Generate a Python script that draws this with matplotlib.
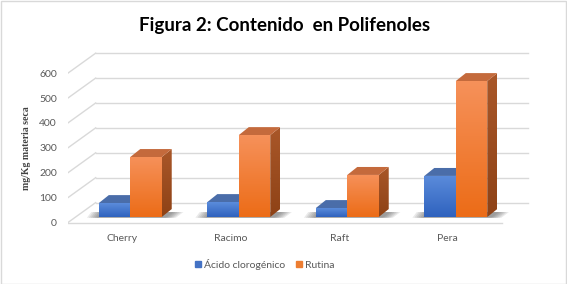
import numpy as np
import matplotlib
matplotlib.use('Agg')
import matplotlib.pyplot as plt
from matplotlib.patches import Polygon, Rectangle
from matplotlib.colors import to_rgb
from matplotlib.lines import Line2D

# datos (mg/Kg materia seca)
categorias = ['Cherry', 'Racimo', 'Raft', 'Pera']
acido_clorogenico = [56, 60, 36, 165]
rutina = [241, 329, 169, 546]
series = ['Ácido clorogénico', 'Rutina']
valores_y = [0, 100, 200, 300, 400, 500, 600]

plt.rcParams['font.family'] = ['Lato', 'DejaVu Sans']

# geometria pseudo 3D (en unidades de datos)
prof_x, prof_y = 0.255, 80      # fondo de la pared
bar_sx, bar_b = 0.074, 22       # desplazamiento del frente de las barras
bar_dx, bar_dy = 0.092, 32      # profundidad de cada barra
ancho = 0.29

colores = {
    'azul': dict(front=('#5B8CDB', '#2F62BE'), top='#4A6DA9', side=('#3A5A95', '#2A4A80')),
    'naranja': dict(front=('#F6915A', '#EC6C17'), top='#C46A3C', side=('#A95729', '#8E4216')),
}

fig = plt.figure(figsize=(5.67, 2.84), dpi=100)
W, H = 567, 284
ax = fig.add_axes([68 / W, 1 - 228 / H, 462 / W, 188 / H])
ax.set_xlim(-0.5, -0.5 + 462 / 108.5)
ax.set_ylim((222.5 - 228) / 0.249, (222.5 - 40) / 0.249)
ax.set_autoscale_on(False)
for s in ax.spines.values():
    s.set_visible(False)
ax.patch.set_alpha(0)


def cara(verts, c1, c2, z):
    poly = Polygon(verts, closed=True, fc='none', ec='none', zorder=z)
    ax.add_patch(poly)
    xs, ys = zip(*verts)
    g = np.linspace(0, 1, 64)[:, None, None]
    img = np.array(to_rgb(c1)) * (1 - g) + np.array(to_rgb(c2)) * g
    im = ax.imshow(img, extent=(min(xs), max(xs), min(ys), max(ys)), origin='upper',
                   aspect='auto', zorder=z, interpolation='bilinear')
    im.set_clip_path(poly)


# rejilla
gc = '#D9D9D9'
for v in valores_y:
    ax.plot([-0.5, -0.5 + prof_x], [v, v + prof_y], color=gc, lw=1, zorder=1)
    ax.plot([-0.5 + prof_x, 3.74], [v + prof_y, v + prof_y], color=gc, lw=1, zorder=1)
ax.plot([-0.5, 3.5], [0, 0], color=gc, lw=1, zorder=1)

# sombras y barras
for i, cat in enumerate(categorias):
    xl = i + bar_sx - ancho
    xr = i + bar_sx + ancho
    for k in range(6):
        e = 0.018 * k
        ax.add_patch(Polygon([(xl - 0.02 - e, bar_b - 3), (xr + 0.04 + e, bar_b - 3),
                              (xr + 0.11 + e, bar_b + 20), (xl + 0.02 - e, bar_b + 20)],
                             closed=True, fc='#404040', ec='none', alpha=0.11, zorder=2))
    for j, (vals, key) in enumerate([(acido_clorogenico, 'azul'), (rutina, 'naranja')]):
        x0 = xl + j * ancho
        h = vals[i]
        c = colores[key]
        b = bar_b
        cara([(x0 + ancho, b), (x0 + ancho + bar_dx, b + bar_dy),
              (x0 + ancho + bar_dx, b + h + bar_dy), (x0 + ancho, b + h)],
             c['side'][0], c['side'][1], 3 + j)
        ax.add_patch(Polygon([(x0, b + h), (x0 + ancho, b + h),
                              (x0 + ancho + bar_dx, b + h + bar_dy), (x0 + bar_dx, b + h + bar_dy)],
                             closed=True, fc=c['top'], ec='none', zorder=3 + j))
        cara([(x0, b), (x0 + ancho, b), (x0 + ancho, b + h), (x0, b + h)],
             c['front'][0], c['front'][1], 3 + j)

# ejes
ax.set_yticks(valores_y)
ax.set_yticklabels([str(v) for v in valores_y])
ax.set_xticks(range(len(categorias)))
ax.set_xticklabels(categorias)
ax.tick_params(axis='y', length=0, pad=8, labelsize=7.5, labelcolor='#595959')
ax.tick_params(axis='x', length=0, pad=4.5, labelsize=7.5, labelcolor='#595959')

fig.text(27 / W, 1 - 148 / H, 'mg/Kg materia seca', rotation=90, ha='center', va='center',
         fontsize=7, fontweight='bold', color='#404040', family=['Liberation Serif'])
fig.text(285 / W, 1 - 25 / H, 'Figura 2: Contenido  en Polifenoles', ha='center', va='center',
         fontsize=13.5, fontweight='bold', color='black')

handles = [Line2D([], [], ls='none', marker='s', markersize=5, color='#4472C4'),
           Line2D([], [], ls='none', marker='s', markersize=5, color='#ED7D31')]
fig.legend(handles, series, loc='center', bbox_to_anchor=(264 / W, 1 - 264 / H), ncol=2,
           frameon=False, fontsize=7.5, handlelength=0.8, handletextpad=0.2, columnspacing=0.9,
           labelcolor='#595959')

fig.add_artist(Rectangle((0.5 / W, 0.5 / H), 1 - 1.5 / W, 1 - 1.5 / H, transform=fig.transFigure,
                         fill=False, ec='#D9D9D9', lw=1))

fig.savefig('out.png', dpi=100)
